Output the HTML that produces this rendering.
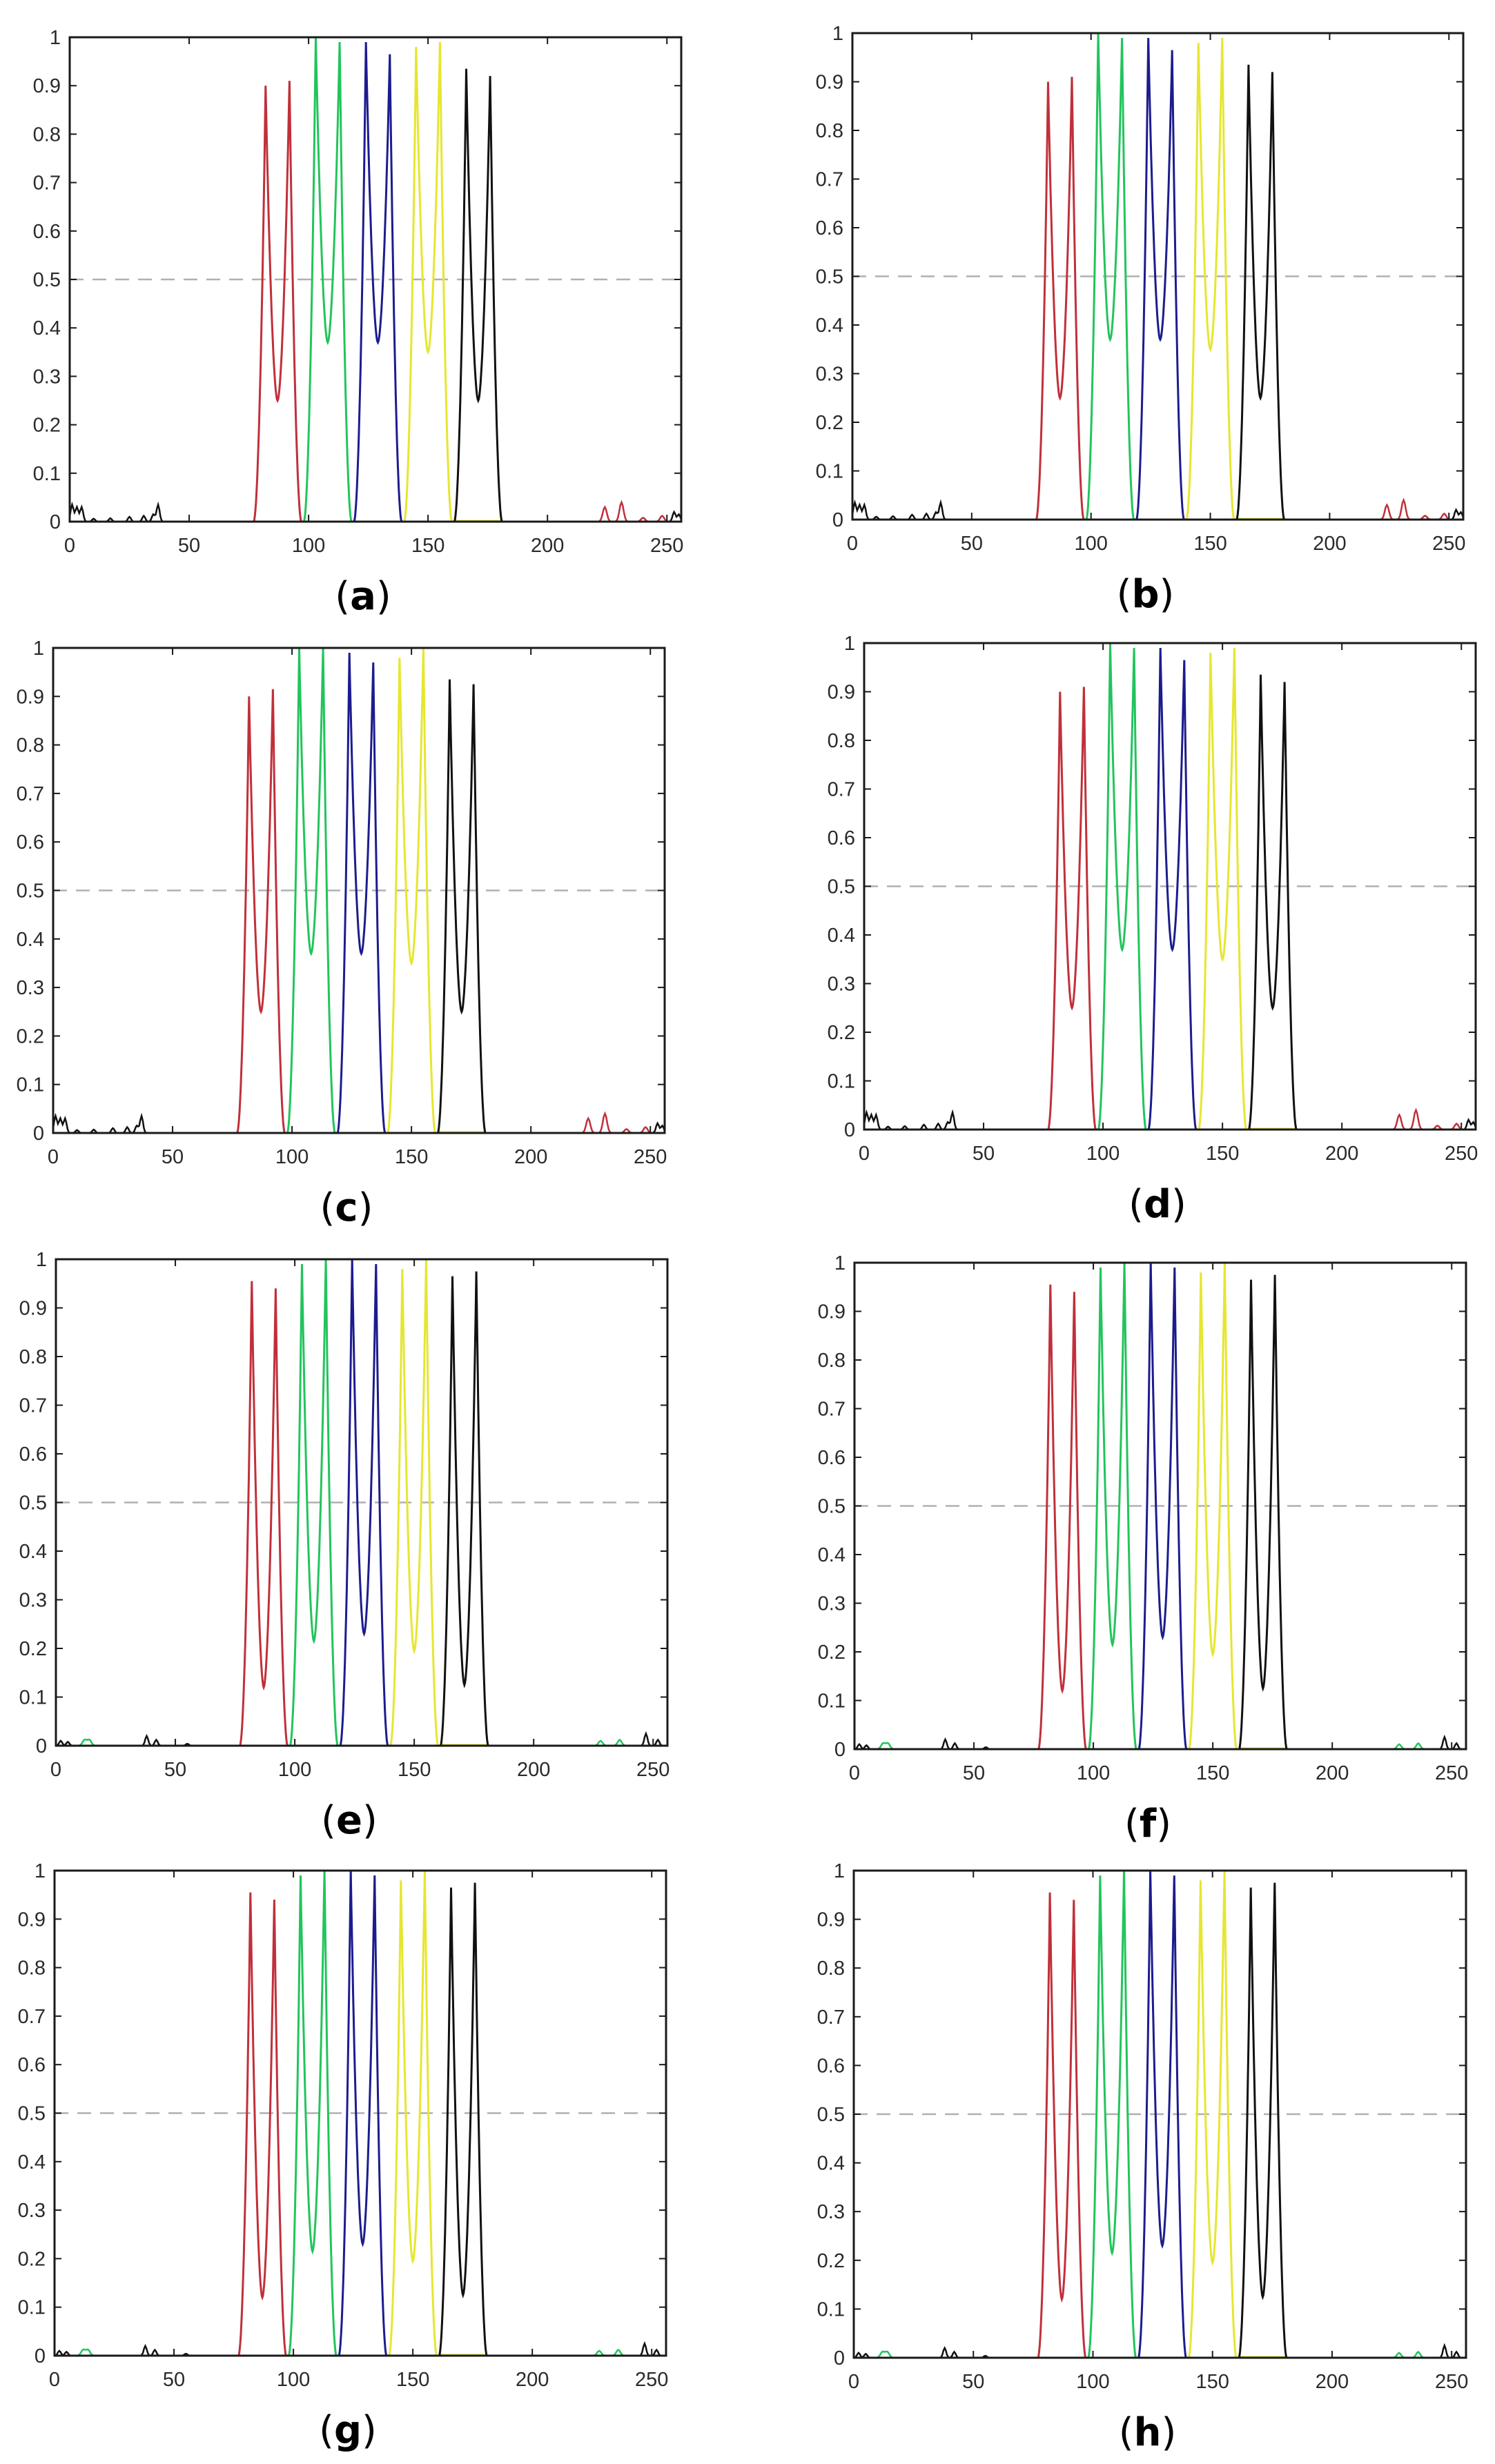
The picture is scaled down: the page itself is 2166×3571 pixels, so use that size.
<!DOCTYPE html>
<html><head><meta charset="utf-8">
<style>
html,body{margin:0;padding:0;background:#fff;}
svg{display:block;}
</style></head>
<body>
<svg id="s" width="2166" height="3571" xmlns="http://www.w3.org/2000/svg" font-family="Liberation Sans, sans-serif"></svg>
<script>
var NS="http://www.w3.org/2000/svg";
var svg=document.getElementById('s');
function el(t,a,txt){var e=document.createElementNS(NS,t);for(var k in a)e.setAttribute(k,a[k]);if(txt!==undefined)e.textContent=txt;svg.appendChild(e);return e;}
var A={r:[0.9,0.91,0.25],g:[1.0,0.99,0.37],b:[0.99,0.965,0.37],y:[0.98,0.99,0.35],k:[0.935,0.92,0.25]};
var C={r:[0.9,0.915,0.25],g:[1.0,1.0,0.37],b:[0.99,0.97,0.37],y:[0.98,1.0,0.35],k:[0.935,0.925,0.25]};
var E={r:[0.955,0.94,0.12],g:[0.99,1.0,0.215],b:[1.0,0.99,0.23],y:[0.98,1.0,0.195],k:[0.965,0.975,0.125]};
var panels=[
 {L:101,R:987,T:54,B:756,lab:'a',d:A,top:1},
 {L:1235,R:2120,T:48,B:753,lab:'b',d:A,top:1},
 {L:77,R:963,T:939,B:1642,lab:'c',d:C,top:1},
 {L:1252,R:2138,T:932,B:1637,lab:'d',d:A,top:1},
 {L:81,R:967,T:1825,B:2530,lab:'e',d:E,top:0},
 {L:1238,R:2124,T:1830,B:2535,lab:'f',d:E,top:0},
 {L:79,R:965,T:2711,B:3414,lab:'g',d:E,top:0},
 {L:1237,R:2124,T:2711,B:3417,lab:'h',d:E,top:0}
];
var chans=[['r',82,'#c0303a'],['g',103,'#22c45c'],['b',124,'#1c1c8e'],['y',145,'#e6e630'],['k',166,'#111111']];
function chanVal(x,c1,h){var s=c1-5,mid=c1+5,c2=c1+10,e=c1+15;var h1=h[0],h2=h[1],m=h[2];
 if(x<s||x>e)return null;
 if(x<=c1)return h1*Math.pow((x-s)/5,1.9);
 if(x<=mid)return m+(h1-m)*Math.pow((mid-x)/5,1.8);
 if(x<=c2)return m+(h2-m)*Math.pow((x-mid)/5,1.8);
 return h2*Math.pow((e-x)/5,1.9);}
panels.forEach(function(p){
 var X=function(v){return p.L+v/256*(p.R-p.L);},Y=function(v){return p.B-v*(p.B-p.T);};
 el('line',{x1:p.L,x2:p.R,y1:Y(0.5),y2:Y(0.5),stroke:'#b0b0b0','stroke-width':2.5,'stroke-dasharray':'20 13'});
 el('line',{x1:X(161),x2:X(181),y1:p.B-1,y2:p.B-1,stroke:'#e6e630','stroke-width':3});
 var noise=p.top?[[1,0.035],[3,0.03],[5,0.03],[10,0.006],[17,0.007],[25,0.01],[31,0.012],[35,0.015],[37,0.035],[253,0.02],[255,0.015]]:[[2,0.01],[5,0.008],[38,0.02],[42,0.012],[55,0.004],[247,0.025],[252,0.012]];
 var d='M'+X(0)+','+Y(0);
 for(var x=0;x<=256;x+=0.5){var v=0;noise.forEach(function(n){v+=n[1]*Math.exp(-Math.pow((x-n[0])/0.9,2));});d+=' L'+X(x).toFixed(1)+','+Y(v).toFixed(1);}
 el('path',{d:d,fill:'none',stroke:'#111','stroke-width':2.5});
 var rn=p.top?[[224,0.03],[231,0.04],[240,0.008],[248,0.012]]:[[12,0.012],[14,0.012],[228,0.01],[236,0.012]];
 var col=p.top?'#c0303a':'#22c45c';
 var a0=p.top?220:8,a1=p.top?252:240;
 d='M'+X(a0)+','+Y(0);
 for(var x=a0;x<=a1;x+=0.5){var v=0;rn.forEach(function(n){v+=n[1]*Math.exp(-Math.pow((x-n[0])/1.2,2));});d+=' L'+X(x).toFixed(1)+','+Y(v).toFixed(1);}
 el('path',{d:d,fill:'none',stroke:col,'stroke-width':2.5});
 chans.forEach(function(c){var h=p.d[c[0]];var dd='';
  for(var x=c[1]-5;x<=c[1]+15.001;x+=0.25){var v=chanVal(x,c[1],h);dd+=(dd?' L':'M')+X(x).toFixed(1)+','+Y(v).toFixed(1);}
  el('path',{d:dd,fill:'none',stroke:c[2],'stroke-width':3});});
 el('rect',{x:p.L,y:p.T,width:p.R-p.L,height:p.B-p.T,fill:'none',stroke:'#1a1a1a','stroke-width':3});
 for(var i=0;i<=10;i++){var yy=Y(i/10);
  el('line',{x1:p.L,x2:p.L+10,y1:yy,y2:yy,stroke:'#1a1a1a','stroke-width':2});
  el('line',{x1:p.R-10,x2:p.R,y1:yy,y2:yy,stroke:'#1a1a1a','stroke-width':2});
  var t=i==0?'0':(i==10?'1':'0.'+i);
  el('text',{x:p.L-13,y:yy+10,'font-size':29,'text-anchor':'end',fill:'#2a2a2a'},t);}
 for(var j=0;j<=5;j++){var xx=X(j*50);
  el('line',{x1:xx,x2:xx,y1:p.B,y2:p.B-10,stroke:'#1a1a1a','stroke-width':2});
  el('line',{x1:xx,x2:xx,y1:p.T,y2:p.T+10,stroke:'#1a1a1a','stroke-width':2});
  el('text',{x:xx,y:p.B+44,'font-size':29,'text-anchor':'middle',fill:'#2a2a2a'},String(j*50));}
 var cx=(p.L+p.R)/2-18;
 var t=el('text',{x:cx,y:p.B+127,'font-size':56,'text-anchor':'middle',fill:'#000','font-family':'DejaVu Sans, Liberation Sans, sans-serif'});
 var s1=document.createElementNS(NS,'tspan');s1.textContent='(';t.appendChild(s1);
 var s2=document.createElementNS(NS,'tspan');s2.setAttribute('font-weight','bold');s2.textContent=p.lab;t.appendChild(s2);
 var s3=document.createElementNS(NS,'tspan');s3.textContent=')';t.appendChild(s3);
});
</script>
</body></html>
